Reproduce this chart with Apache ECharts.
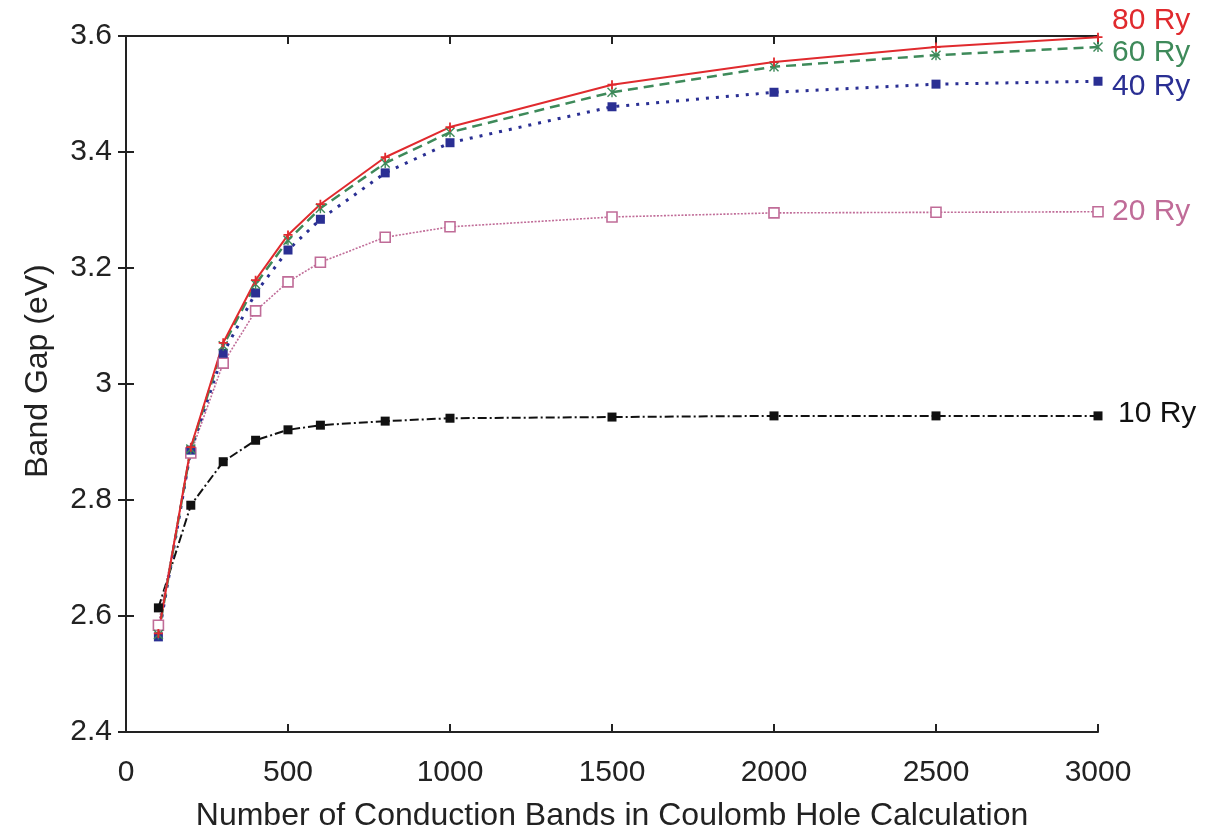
<!DOCTYPE html>
<html>
<head>
<meta charset="utf-8">
<script src="https://cdn.jsdelivr.net/npm/echarts@6/dist/echarts.min.js"></script>
<style>html,body{margin:0;padding:0;background:#fff;}#c{width:1211px;height:831px;}</style>
</head>
<body>
<div id="c"></div>
<script>
var bands = [100, 200, 300, 400, 500, 600, 800, 1000, 1500, 2000, 2500, 3000];
var ry10 = [2.614, 2.791, 2.866, 2.903, 2.921, 2.929, 2.936, 2.941, 2.943, 2.945, 2.945, 2.945];
var ry20 = [2.584, 2.881, 3.036, 3.126, 3.176, 3.210, 3.253, 3.271, 3.288, 3.295, 3.296, 3.297];
var ry40 = [2.564, 2.886, 3.053, 3.157, 3.231, 3.284, 3.364, 3.416, 3.478, 3.503, 3.517, 3.522];
var ry60 = [2.568, 2.888, 3.066, 3.172, 3.248, 3.303, 3.381, 3.434, 3.503, 3.547, 3.567, 3.581];
var ry80 = [2.570, 2.891, 3.071, 3.179, 3.257, 3.310, 3.391, 3.443, 3.516, 3.555, 3.581, 3.598];
var xTicks = [0, 500, 1000, 1500, 2000, 2500, 3000];
var yTicks = [2.4, 2.6, 2.8, 3.0, 3.2, 3.4, 3.6];

function pairs(vals) { return bands.map(function (b, i) { return [b, vals[i]]; }); }

var FONT = 'Liberation Sans';
var plusPath = 'path://M4,0 L6,0 L6,4 L10,4 L10,6 L6,6 L6,10 L4,10 L4,6 L0,6 L0,4 L4,4 Z';
var starPath = 'path://M1,0 L5,4 L9,0 L10,1 L6,5 L10,9 L9,10 L5,6 L1,10 L0,9 L4,5 L0,1 Z M4.3,0 L5.7,0 L5.7,10 L4.3,10 Z';

function mkSeries(name, vals, color, lineType, width, symbol, symSize, itemStyle, offset) {
  return {
    name: name, type: 'line', data: pairs(vals),
    symbol: symbol, symbolSize: symSize, showSymbol: true,
    lineStyle: { color: color, width: width, type: lineType },
    itemStyle: itemStyle,
    animation: false,
    endLabel: {
      show: true, formatter: '{a}', color: color, fontSize: 30, fontFamily: FONT,
      distance: 14, offset: offset
    },
    z: 3
  };
}

var chart = echarts.init(document.getElementById('c'), null, { renderer: 'canvas' });
chart.setOption({
  backgroundColor: '#fff',
  animation: false,
  grid: { left: 126, right: 113, top: 36, bottom: 99, containLabel: false, outerBoundsMode: 'none' },
  xAxis: [{
    type: 'value', min: 0, max: 3000, interval: 500,
    name: 'Number of Conduction Bands in Coulomb Hole Calculation',
    nameLocation: 'middle', nameGap: 68,
    nameTextStyle: { fontSize: 32, color: '#222', fontFamily: FONT },
    axisLine: { show: true, lineStyle: { color: '#222', width: 2 } },
    axisTick: { show: true, inside: true, length: 8, lineStyle: { color: '#222', width: 2 } },
    axisLabel: { fontSize: 30, color: '#222', fontFamily: FONT, margin: 26,
      formatter: function (v) { return xTicks.indexOf(v) >= 0 ? String(v) : ''; } },
    splitLine: { show: false }
  }, {
    type: 'value', position: 'top', min: 0, max: 3000, interval: 500,
    axisLine: { show: true, lineStyle: { color: '#222', width: 2 } },
    axisTick: { show: true, inside: true, length: 8, lineStyle: { color: '#222', width: 2 } },
    axisLabel: { show: false }, splitLine: { show: false }
  }],
  yAxis: [{
    type: 'value', min: 2.4, max: 3.6, interval: 0.2,
    name: 'Band Gap (eV)', nameLocation: 'middle', nameGap: 72,
    nameTextStyle: { fontSize: 32, color: '#222', fontFamily: FONT, padding: [0, 0, 0, 26] },
    axisLine: { show: true, lineStyle: { color: '#222', width: 2 } },
    axisTick: { show: true, inside: true, length: 8, lineStyle: { color: '#222', width: 2 } },
    axisLabel: { fontSize: 30, color: '#222', fontFamily: FONT, margin: 14,
      formatter: function (v) { var r = Math.round(v * 10) / 10; return yTicks.indexOf(r) >= 0 ? String(r) : ''; } },
    splitLine: { show: false }
  }, {
    type: 'value', position: 'right', min: 2.4, max: 3.6, interval: 0.2,
    axisLine: { show: true, lineStyle: { color: '#222', width: 2 } },
    axisTick: { show: true, inside: true, length: 8, lineStyle: { color: '#222', width: 2 } },
    axisLabel: { show: false }, splitLine: { show: false }
  }],
  series: [
    mkSeries('10 Ry', ry10, '#111111', [9, 3, 2, 3], 2, 'rect', 9,
      { color: '#111111', borderColor: '#111111', borderWidth: 0 }, [6, -2]),
    mkSeries('20 Ry', ry20, '#c06c98', [2, 1.5], 1.6, 'rect', 10,
      { color: '#ffffff', borderColor: '#c06c98', borderWidth: 1.6 }, [0, 0]),
    mkSeries('40 Ry', ry40, '#2a2f93', [3, 7], 3, 'rect', 9,
      { color: '#2a2f93', borderColor: '#2a2f93', borderWidth: 0 }, [0, 5]),
    mkSeries('60 Ry', ry60, '#3e8a5a', [10, 6], 2.5, starPath, 10,
      { color: '#3e8a5a', borderWidth: 0 }, [0, 6]),
    mkSeries('80 Ry', ry80, '#e02a2e', 'solid', 2, plusPath, 9,
      { color: '#e02a2e', borderWidth: 0 }, [0, -16])
  ]
});
</script>
</body>
</html>
